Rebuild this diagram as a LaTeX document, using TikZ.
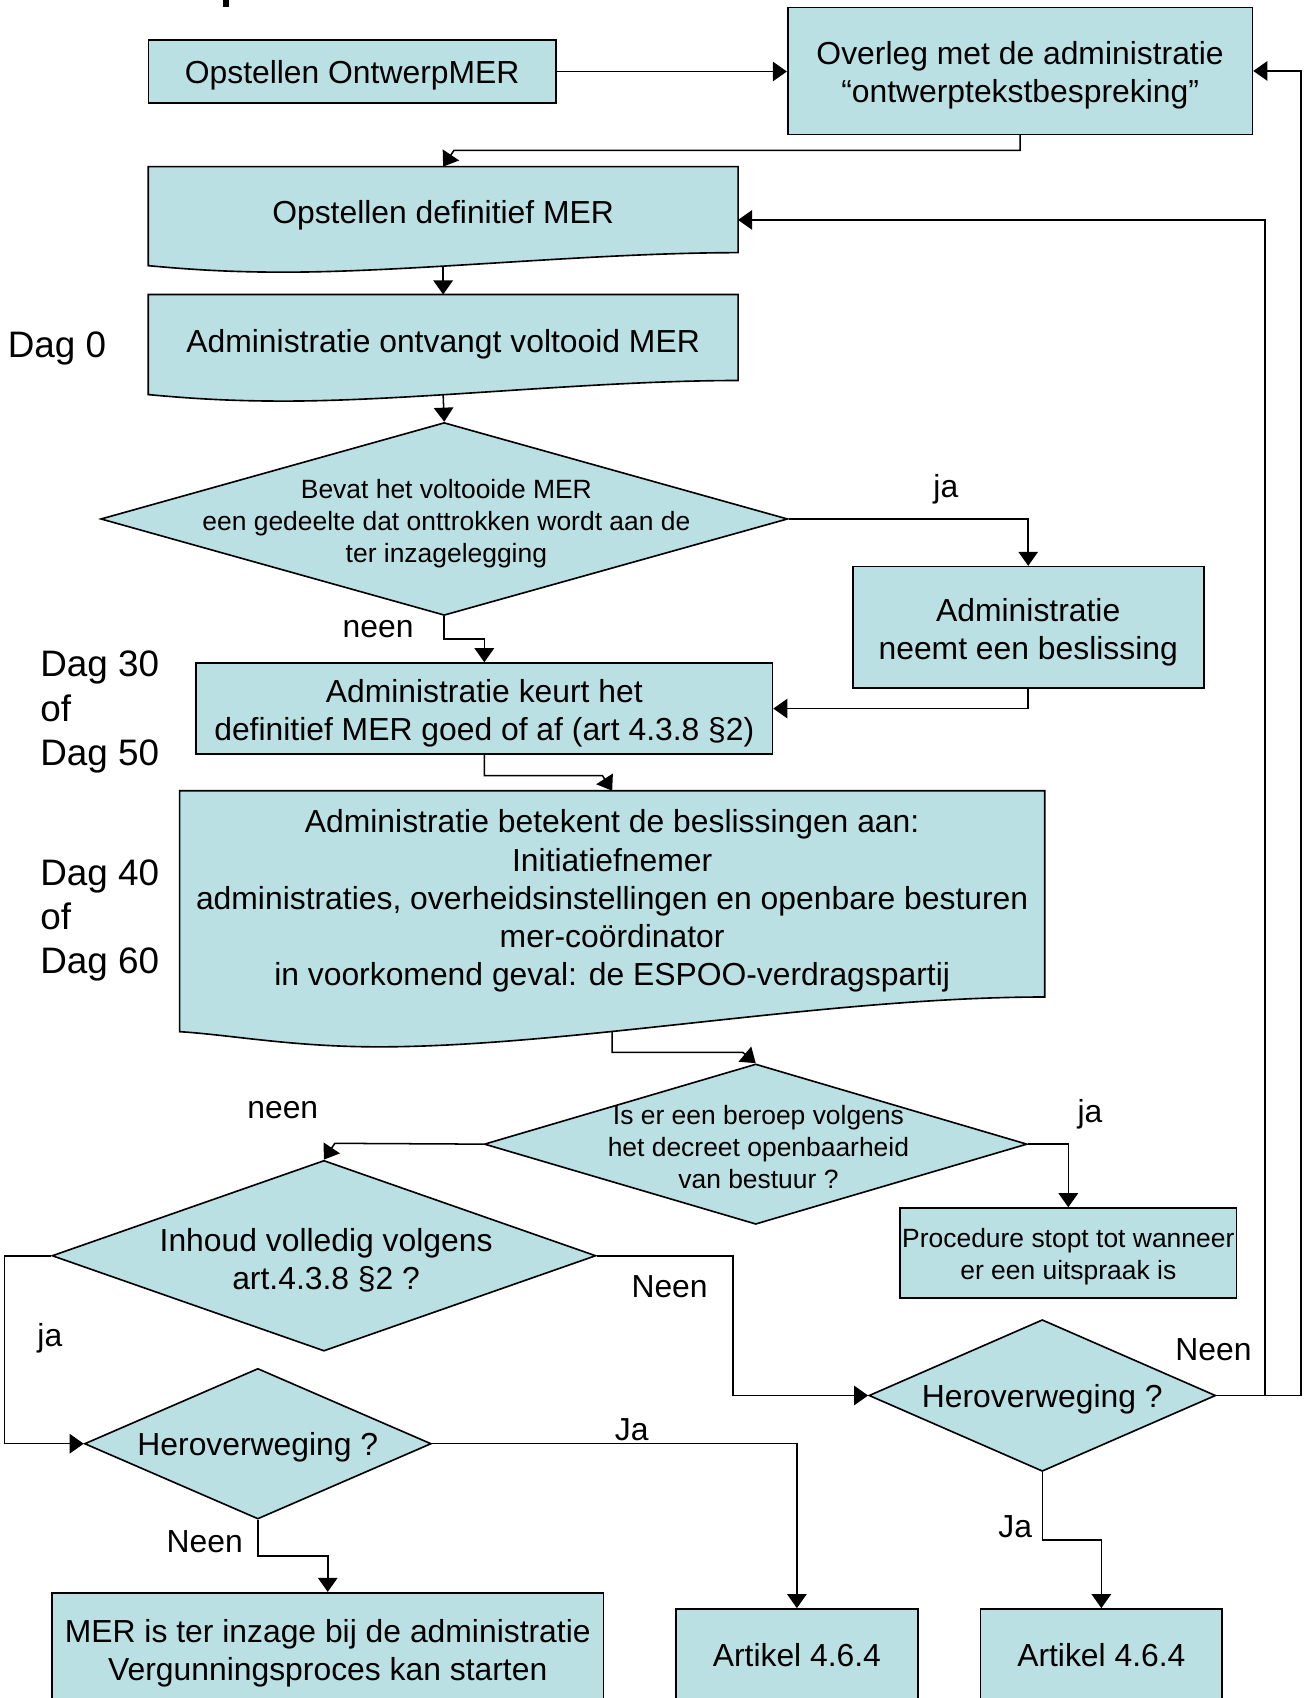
\documentclass[tikz,border=0pt]{standalone}
\usepackage{fontspec}
\setmainfont{Liberation Sans}
\usetikzlibrary{arrows.meta,shapes.geometric,calc,backgrounds}
\definecolor{merfill}{RGB}{187,224,227}
\newcommand{\fsnormal}{\fontsize{29.4}{35.2}\selectfont}
\newcommand{\fssmall}{\fontsize{24.4}{29.5}\selectfont}
\newcommand{\fsdag}{\fontsize{34}{41}\selectfont}
% taller first line, so the text sits a little lower in its box
\newcommand{\lift}[1][30pt]{\rule{0pt}{#1}}
% document shape: node, dip of the wave, drop of the left corner
\newcommand{\docshape}[3]{%
  \draw[docline] (#1.north west) -- (#1.north east) -- (#1.south east)
    .. controls ($(#1.south west)!0.75!(#1.south east)$) and ($(#1.south west)!0.45!(#1.south east)+(0,#2)$)
    .. ($(#1.south west)!0.23!(#1.south east)+(0,#2)$)
    .. controls ($(#1.south west)!0.13!(#1.south east)+(0,#2)$) and ($(#1.south west)!0.06!(#1.south east)+(0,#3+3)$)
    .. ($(#1.south west)+(0,#3)$) -- cycle;}
\tikzset{
  box/.style={draw, fill=merfill, line width=1.5pt, align=center, inner sep=2pt, font=\fsnormal},
  docbox/.style={align=center, inner sep=2pt, font=\fsnormal},
  docline/.style={draw, fill=merfill, line width=1.5pt},
  decision/.style={diamond, draw, fill=merfill, line width=1.5pt, inner sep=0pt},
  dectext/.style={align=center, inner sep=0pt, font=\fssmall},
  lbl/.style={inner sep=0pt, font=\fsnormal},
  daglbl/.style={anchor=west, align=left, inner sep=0pt, font=\fsdag},
  arr/.style={line width=1.4pt, -{Triangle[length=13pt,width=18pt]}},
}
\begin{document}
\begin{tikzpicture}[x=1pt,y=1pt,yscale=-1,xscale=1]
\useasboundingbox (0,0) rectangle (1204.5,1567.2);

%Shape: cut-off title stroke
\fill (205.5,0) rectangle (211.4,6.8);

%Shape: Rectangle
\node[box, minimum width=376, minimum height=58] (ontwerp) at (325,66) {\lift[28.5pt]Opstellen OntwerpMER};
\node[box, minimum width=429, minimum height=117] (overleg) at (941.5,65.5) {\lift Overleg met de administratie\\“ontwerptekstbespreking”};
%Shape: Document
\node[docbox, minimum width=544, minimum height=79] (definitief) at (409,193.5) {\lift[32.5pt]Opstellen definitief MER};
\node[docbox, minimum width=544, minimum height=79] (ontvangt) at (409,311.5) {\lift[34.5pt]Administratie ontvangt voltooid MER};
\node[docbox, minimum width=798, minimum height=190] (betekent) at (565,825) {\lift[34.5pt]Administratie betekent de beslissingen aan:\\Initiatiefnemer\\administraties, overheidsinstellingen en openbare besturen\\mer-coördinator\\in voorkomend geval: de ESPOO-verdragspartij};
\begin{scope}[on background layer]
\docshape{definitief}{18}{12}
\docshape{ontvangt}{19}{13}
\docshape{betekent}{46}{32}
\end{scope}
%Shape: Diamond
\node[decision, minimum width=634, minimum height=178] (gedeelte) at (410,479) {};
\node[dectext] (gedeeltetxt) at (412,483) {Bevat het voltooide MER\\een gedeelte dat onttrokken wordt aan de\\ter inzagelegging};
%Shape: Rectangle
\node[box, minimum width=324, minimum height=112] (beslissing) at (949,579) {\lift Administratie\\neemt een beslissing};
\node[box, minimum width=532, minimum height=84] (keurt) at (447,654) {\lift Administratie keurt het\\definitief MER goed of af (art 4.3.8 §2)};
%Shape: Diamond
\node[decision, minimum width=501, minimum height=148] (beroep) at (697.5,1056) {};
\node[dectext] (beroeptxt) at (700,1059) {Is er een beroep volgens\\het decreet openbaarheid\\van bestuur ?};
\node[box, font=\fssmall, minimum width=310, minimum height=83] (stopt) at (986,1156.5) {\lift[25pt]Procedure stopt tot wanneer\\er een uitspraak is};
\node[decision, minimum width=502, minimum height=176] (inhoud) at (299,1159) {};
\node[lbl, align=center] (inhoudtxt) at (301,1163.5) {Inhoud volledig volgens\\art.4.3.8 §2 ?};
\node[decision, minimum width=320, minimum height=139] (herlinks) at (238,1332.5) {};
\node[lbl] (herlinkstxt) at (238,1336) {Heroverweging ?};
\node[decision, minimum width=320, minimum height=140] (herrechts) at (962,1288) {};
\node[lbl] (herrechtstxt) at (962,1291) {Heroverweging ?};
%Shape: Rectangle
\node[box, minimum width=509, minimum height=108] (inzage) at (302.5,1524) {\lift[24.5pt]MER is ter inzage bij de administratie\\Vergunningsproces kan starten};
\node[box, minimum width=223, minimum height=86] (artlinks) at (735.5,1528) {Artikel 4.6.4};
\node[box, minimum width=223, minimum height=86] (artrechts) at (1016.5,1528) {Artikel 4.6.4};

% Text Node
\node[daglbl] (dag0) at (7,321.5) {Dag 0};
\node[daglbl] (dag30) at (37,657.5) {Dag 30\\of\\Dag 50};
\node[daglbl] (dag40) at (37,849.5) {Dag 40\\of\\Dag 60};
% Text Node
\node[lbl] (ja1) at (873,452) {ja};
\node[lbl] (neen1) at (349,581) {neen};
\node[lbl] (ja2) at (1006,1028) {ja};
\node[lbl] (neen2) at (261,1025) {neen};
\node[lbl] (ja3) at (46,1235) {ja};
\node[lbl] (neen3) at (618,1188) {Neen};
\node[lbl] (neen4) at (1120,1246) {Neen};
\node[lbl] (neen5) at (189,1423) {Neen};
\node[lbl] (ja4) at (583,1320) {Ja};
\node[lbl] (ja5) at (937,1409) {Ja};

%Connectors
\draw[arr] (ontwerp.east) -- (ontwerp.east -| overleg.west);
\draw[arr] (overleg.south) |- ($(definitief.north)+(10,-15)$) -- (definitief.north);
\draw[arr] ($(definitief.south)+(0,13)$) -- (ontvangt.north);
\draw[arr] ($(ontvangt.south)+(0,13)$) -- (gedeelte.north);
\draw[arr] (gedeelte.east) -| (beslissing.north);
\draw[arr] (gedeelte.south) |- ($(gedeelte.south)!0.5!(keurt.north)$) -| (keurt.north);
\draw[arr] (beslissing.south) |- (keurt.east);
\draw[arr] (keurt.south) |- ($(betekent.north)+(-9,-14)$) -- (betekent.north);
\draw[arr] ($(betekent.south)+(0,32)$) |- ($(beroep.north)+(-12,-10)$) -- (beroep.north);
\draw[arr] (beroep.east) -| (stopt.north);
\draw[arr] (beroep.west) -- ($(inhoud.north)+(10,-15)$) -- (inhoud.north);
\draw[arr] (inhoud.west) -- ++(-43,0) |- (herlinks.west);
\draw[arr] (inhoud.east) -- ++(126,0) |- (herrechts.west);
\draw[arr] (herrechts.east) -- ++(45,0) |- ($(definitief.east)+(0,9.5)$);
\draw[arr] (herrechts.east) -- ++(78,0) |- (overleg.east);
\draw[arr] (herlinks.south) |- ($(herlinks.south)!0.5!(inzage.north)$) -| (inzage.north);
\draw[arr] (herlinks.east) -| (artlinks.north);
\draw[arr] (herrechts.south) |- ($(herrechts.south)!0.5!(artrechts.north)$) -| (artrechts.north);

\end{tikzpicture}
\end{document}
